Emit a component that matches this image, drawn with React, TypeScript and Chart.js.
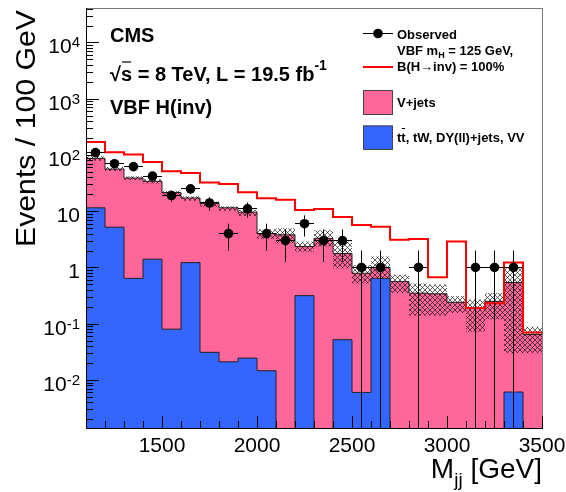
import { useEffect, useRef } from "react";
import { Chart, registerables } from "chart.js";

Chart.register(...registerables);

// ---------- data ----------
const binLowEdges = [
  1100, 1200, 1300, 1400, 1500, 1600, 1700, 1800, 1900, 2000, 2100, 2200,
  2300, 2400, 2500, 2600, 2700, 2800, 2900, 3000, 3100, 3200, 3300, 3400,
];
const binWidth = 100;
const xMin = 1100;
const xMax = 3500;

// Observed events per bin (0 = no entry)
const observed = [110, 70, 62, 42, 19, 25, 14, 4, 11, 4, 3, 6, 3, 3, 1, 1, 0, 1, 0, 0, 1, 1, 1, 0];
// Stacked total (V+jets drawn on top of the other backgrounds)
const vjetsStackTop = [
  87, 56, 39, 34, 21.5, 17.2, 13.8, 11.5, 9.6, 4.0, 3.8, 2.35, 3.3, 1.78, 0.79, 1.0,
  0.56, 0.35, 0.34, 0.24, 0.19, 0.25, 0.54, 0.064,
];
// tt, tW, DY(ll)+jets, VV (0 = empty bin)
const otherBkg = [
  11.5, 5.2, 0.64, 1.4, 0.08, 1.22, 0.031, 0.021, 0.0245, 0.0146, 0, 0.316, 0, 0.052,
  0.006, 0.64, 0, 0, 0, 0, 0, 0, 0.0061, 0,
];
// VBF mH = 125 GeV, B(H->inv) = 100%
const signal = [
  170, 112, 102, 75, 51.5, 48, 32.5, 30.5, 21.8, 17, 16, 10.5, 11, 7.9, 5.7, 5.3, 3.1,
  3.2, 0.67, 2.9, 0.19, 0.23, 1.22, 0.07,
];
// Background uncertainty band
const bandLow = [
  79, 52, 36, 31, 18.5, 15.3, 12, 10.2, 8.2, 3.2, 2.7, 1.9, 2.35, 0.96, 0.52, 0.64, 0.35,
  0.14, 0.14, 0.155, 0.072, 0.12, 0.03, 0.03,
];
const bandHigh = [
  95, 61, 42, 37, 23, 18.5, 14.7, 12.3, 10.5, 4.8, 5.0, 2.9, 4.6, 2.9, 1.1, 1.56, 0.74,
  0.52, 0.5, 0.31, 0.27, 0.35, 0.97, 0.088,
];

const yMin = 0.0014;
const yMax = 41000;
const yTickValues = [0.01, 0.1, 1, 10, 100, 1000, 10000];
const yTickMain = ["10", "10", "1", "10", "10", "10", "10"];
const yTickSup = ["-2", "-1", "", "", "2", "3", "4"];
const xTickValues = [1500, 2000, 2500, 3000, 3500];
const xTickLabels = ["1500", "2000", "2500", "3000", "3500"];

const PINK = "#ff6699";
const BLUE = "#3366ff";
const RED = "#ff0000";
const FONT = '"Liberation Sans", Arial, Helvetica, sans-serif';
const BELOW_AXIS = 1e-4; // value used for empty bins (below the y-axis minimum)

function histPoints(values: number[]) {
  const pts = values.map((v, i) => ({ x: binLowEdges[i], y: v > 0 ? v : BELOW_AXIS }));
  const last = values[values.length - 1];
  pts.push({ x: xMax, y: last > 0 ? last : BELOW_AXIS });
  return pts;
}

function makeHatch(): CanvasPattern | string {
  const s = 5;
  const c = document.createElement("canvas");
  c.width = s;
  c.height = s;
  const g = c.getContext("2d");
  if (!g) return "rgba(0,0,0,0.3)";
  g.strokeStyle = "rgba(10,10,10,0.8)";
  g.lineWidth = 0.8;
  g.beginPath();
  g.moveTo(-1, -1);
  g.lineTo(s + 1, s + 1);
  g.moveTo(s + 1, -1);
  g.lineTo(-1, s + 1);
  g.stroke();
  const p = g.createPattern(c, "repeat");
  return p || "rgba(0,0,0,0.3)";
}

type Part = { t: string; size: number; dy?: number; bold?: boolean; over?: boolean };

function drawParts(ctx: CanvasRenderingContext2D, x: number, base: number, parts: Part[]) {
  let cx = x;
  for (const p of parts) {
    ctx.font = `${p.bold ? "bold " : ""}${p.size}px ${FONT}`;
    const w = ctx.measureText(p.t).width;
    ctx.fillText(p.t, cx, base + (p.dy || 0));
    if (p.over) {
      ctx.save();
      ctx.lineWidth = 1.2;
      ctx.beginPath();
      ctx.moveTo(cx + 1, base + (p.dy || 0) - p.size * 0.95);
      ctx.lineTo(cx + w - 1, base + (p.dy || 0) - p.size * 0.95);
      ctx.stroke();
      ctx.restore();
    }
    cx += w;
  }
  return cx;
}

function partsWidth(ctx: CanvasRenderingContext2D, parts: Part[]) {
  let w = 0;
  for (const p of parts) {
    ctx.font = `${p.bold ? "bold " : ""}${p.size}px ${FONT}`;
    w += ctx.measureText(p.t).width;
  }
  return w;
}

const decorPlugin = {
  id: "cmsDecor",
  afterDatasetsDraw(chart: any) {
    const ctx: CanvasRenderingContext2D = chart.ctx;
    const xs = chart.scales.x;
    const ys = chart.scales.y;
    const a = chart.chartArea;

    // error bars of observed data
    ctx.save();
    ctx.beginPath();
    ctx.rect(a.left, a.top, a.right - a.left, a.bottom - a.top);
    ctx.clip();
    ctx.strokeStyle = "#000";
    ctx.lineWidth = 1;
    observed.forEach((n, i) => {
      if (n <= 0) return;
      const err = Math.sqrt(n);
      const cx = Math.floor(xs.getPixelForValue(binLowEdges[i] + binWidth / 2)) + 0.5;
      const cy = Math.floor(ys.getPixelForValue(n)) + 0.5;
      const yHi = ys.getPixelForValue(n + err);
      const yLo = n - err > 0 ? ys.getPixelForValue(n - err) : a.bottom;
      ctx.beginPath();
      ctx.moveTo(cx, yHi);
      ctx.lineTo(cx, yLo);
      ctx.moveTo(xs.getPixelForValue(binLowEdges[i]), cy);
      ctx.lineTo(xs.getPixelForValue(binLowEdges[i] + binWidth), cy);
      ctx.stroke();
    });
    ctx.restore();

    ctx.save();
    // frame
    ctx.lineWidth = 1;
    ctx.strokeStyle = "#777";
    ctx.beginPath();
    ctx.moveTo(a.left, a.top + 0.5);
    ctx.lineTo(a.right + 0.5, a.top + 0.5);
    ctx.lineTo(a.right + 0.5, a.bottom);
    ctx.stroke();
    ctx.strokeStyle = "#000";
    ctx.beginPath();
    ctx.moveTo(a.left + 0.5, a.top);
    ctx.lineTo(a.left + 0.5, a.bottom + 0.5);
    ctx.lineTo(a.right + 1, a.bottom + 0.5);
    ctx.stroke();

    // y ticks (log)
    ctx.beginPath();
    for (let k = -3; k <= 4; k++) {
      for (let m = 1; m <= 9; m++) {
        const v = m * Math.pow(10, k);
        if (v < yMin || v > yMax) continue;
        const py = Math.round(ys.getPixelForValue(v)) + 0.5;
        const len = m === 1 ? 13 : 7;
        ctx.moveTo(a.left, py);
        ctx.lineTo(a.left + len, py);
      }
    }
    // x ticks
    for (let v = xMin; v <= xMax; v += binWidth) {
      const px = Math.round(xs.getPixelForValue(v)) + 0.5;
      const len = v % 500 === 0 ? 12 : 7;
      ctx.moveTo(px, a.bottom);
      ctx.lineTo(px, a.bottom - len);
    }
    ctx.stroke();

    ctx.fillStyle = "#000";
    ctx.textBaseline = "alphabetic";
    // y tick labels
    yTickValues.forEach((v, i) => {
      const py = ys.getPixelForValue(v);
      const parts: Part[] = [{ t: yTickMain[i], size: 21 }];
      if (yTickSup[i]) parts.push({ t: yTickSup[i], size: 15, dy: -6 });
      const w = partsWidth(ctx, parts);
      ctx.textAlign = "left";
      drawParts(ctx, 80 - w, py + 11, parts);
    });
    // x tick labels
    ctx.font = `21px ${FONT}`;
    ctx.textAlign = "center";
    xTickValues.forEach((v, i) => {
      ctx.fillText(xTickLabels[i], xs.getPixelForValue(v), 452);
    });

    // x title
    ctx.textAlign = "left";
    const xt: Part[] = [
      { t: "M", size: 28 },
      { t: "jj", size: 19, dy: 8 },
      { t: " [GeV]", size: 28 },
    ];
    drawParts(ctx, 542 - partsWidth(ctx, xt), 478, xt);

    // y title
    ctx.save();
    ctx.translate(35, 10);
    ctx.rotate(-Math.PI / 2);
    ctx.scale(1.08, 1);
    ctx.font = `28px ${FONT}`;
    ctx.textAlign = "right";
    ctx.fillText("Events / 100 GeV", 0, 0);
    ctx.restore();

    // CMS texts
    ctx.textAlign = "left";
    ctx.font = `bold 20px ${FONT}`;
    ctx.fillText("CMS", 110, 42);
    drawParts(ctx, 110, 81, [
      { t: "\u221A", size: 20, bold: true },
      { t: "s", size: 20, bold: true, over: true },
      { t: " = 8 TeV, L = 19.5 fb", size: 20, bold: true },
      { t: "-1", size: 14, bold: true, dy: -11 },
    ]);
    ctx.font = `bold 20px ${FONT}`;
    ctx.fillText("VBF H(inv)", 110, 114);

    // legend
    const lx0 = 363;
    const lx1 = 393;
    const tx = 397;
    ctx.strokeStyle = "#000";
    ctx.lineWidth = 1;
    ctx.beginPath();
    ctx.moveTo(lx0, 33.5);
    ctx.lineTo(lx1, 33.5);
    ctx.stroke();
    ctx.beginPath();
    ctx.arc(378, 33.5, 4.8, 0, Math.PI * 2);
    ctx.fill();
    ctx.font = `bold 13px ${FONT}`;
    ctx.fillText("Observed", tx, 38.5);

    ctx.strokeStyle = RED;
    ctx.lineWidth = 2;
    ctx.beginPath();
    ctx.moveTo(lx0, 67);
    ctx.lineTo(lx1, 67);
    ctx.stroke();
    drawParts(ctx, tx, 55, [
      { t: "VBF m", size: 13, bold: true },
      { t: "H", size: 9, bold: true, dy: 3 },
      { t: " = 125 GeV,", size: 13, bold: true },
    ]);
    ctx.font = `bold 13px ${FONT}`;
    ctx.fillText("B(H\u2192inv) = 100%", tx, 70.5);

    ctx.lineWidth = 1;
    ctx.strokeStyle = "#444";
    ctx.fillStyle = PINK;
    ctx.fillRect(lx0, 90, lx1 - lx0, 25);
    ctx.strokeRect(lx0 + 0.5, 90.5, lx1 - lx0 - 1, 24);
    ctx.fillStyle = BLUE;
    ctx.fillRect(lx0, 125.5, lx1 - lx0, 24.5);
    ctx.strokeRect(lx0 + 0.5, 126, lx1 - lx0 - 1, 23.5);

    ctx.fillStyle = "#000";
    ctx.strokeStyle = "#000";
    ctx.font = `bold 13px ${FONT}`;
    ctx.fillText("V+jets", tx, 107);
    const wt = ctx.measureText("t").width;
    ctx.fillText("t", tx, 141.7);
    ctx.fillText("t", tx + wt, 141.7);
    ctx.lineWidth = 1;
    ctx.beginPath();
    ctx.moveTo(tx + wt + 0.5, 128.5);
    ctx.lineTo(tx + 2 * wt - 0.5, 128.5);
    ctx.stroke();
    ctx.fillText(", tW, DY(ll)+jets, VV", tx + 2 * wt, 141.7);

    ctx.restore();
  },
};

export default function App() {
  const ref = useRef<HTMLCanvasElement | null>(null);

  useEffect(() => {
    document.body.style.margin = "0";
    const canvas = ref.current;
    if (!canvas) return;
    const hatch = makeHatch();
    const centers = binLowEdges.map((e) => e + binWidth / 2);
    const dataPts = observed
      .map((n, i) => ({ x: centers[i], y: n }))
      .filter((p) => p.y > 0);

    const chart = new Chart(canvas, {
      type: "line",
      data: {
        datasets: [
          {
            label: "Observed",
            data: dataPts,
            showLine: false,
            pointRadius: 4.8,
            pointBackgroundColor: "#000",
            pointBorderWidth: 0,
            borderColor: "#000",
          },
          {
            label: "VBF signal",
            data: histPoints(signal),
            stepped: "before",
            borderColor: RED,
            borderWidth: 2,
            pointRadius: 0,
            fill: false,
          },
          {
            label: "band low",
            data: histPoints(bandLow),
            stepped: "before",
            borderColor: "rgba(0,0,0,0)",
            borderWidth: 1,
            pointRadius: 0,
            fill: false,
          },
          {
            label: "band high",
            data: histPoints(bandHigh),
            stepped: "before",
            borderColor: "rgba(0,0,0,0)",
            borderWidth: 1,
            pointRadius: 0,
            fill: "-1",
            backgroundColor: hatch as any,
          },
          {
            label: "tt, tW, DY(ll)+jets, VV",
            data: histPoints(otherBkg),
            stepped: "before",
            borderColor: "#222",
            borderWidth: 1,
            pointRadius: 0,
            fill: "start",
            backgroundColor: BLUE,
          },
          {
            label: "V+jets",
            data: histPoints(vjetsStackTop),
            stepped: "before",
            borderColor: "#222",
            borderWidth: 1,
            pointRadius: 0,
            fill: "start",
            backgroundColor: PINK,
          },
        ],
      },
      options: {
        animation: false,
        responsive: false,
        events: [],
        layout: { padding: { left: 86, top: 8, right: 24, bottom: 64 } },
        plugins: { legend: { display: false }, tooltip: { enabled: false } },
        scales: {
          x: { type: "linear", min: xMin, max: xMax, display: false },
          y: { type: "logarithmic", min: yMin, max: yMax, display: false },
        },
        elements: { line: { tension: 0 } },
      },
      plugins: [decorPlugin],
    } as any);
    return () => chart.destroy();
  }, []);

  return (
    <div style={{ position: "absolute", left: 0, top: 0, width: 566, height: 492, background: "#fff" }}>
      <canvas ref={ref} width={566} height={492} style={{ display: "block", width: 566, height: 492 }} />
    </div>
  );
}
